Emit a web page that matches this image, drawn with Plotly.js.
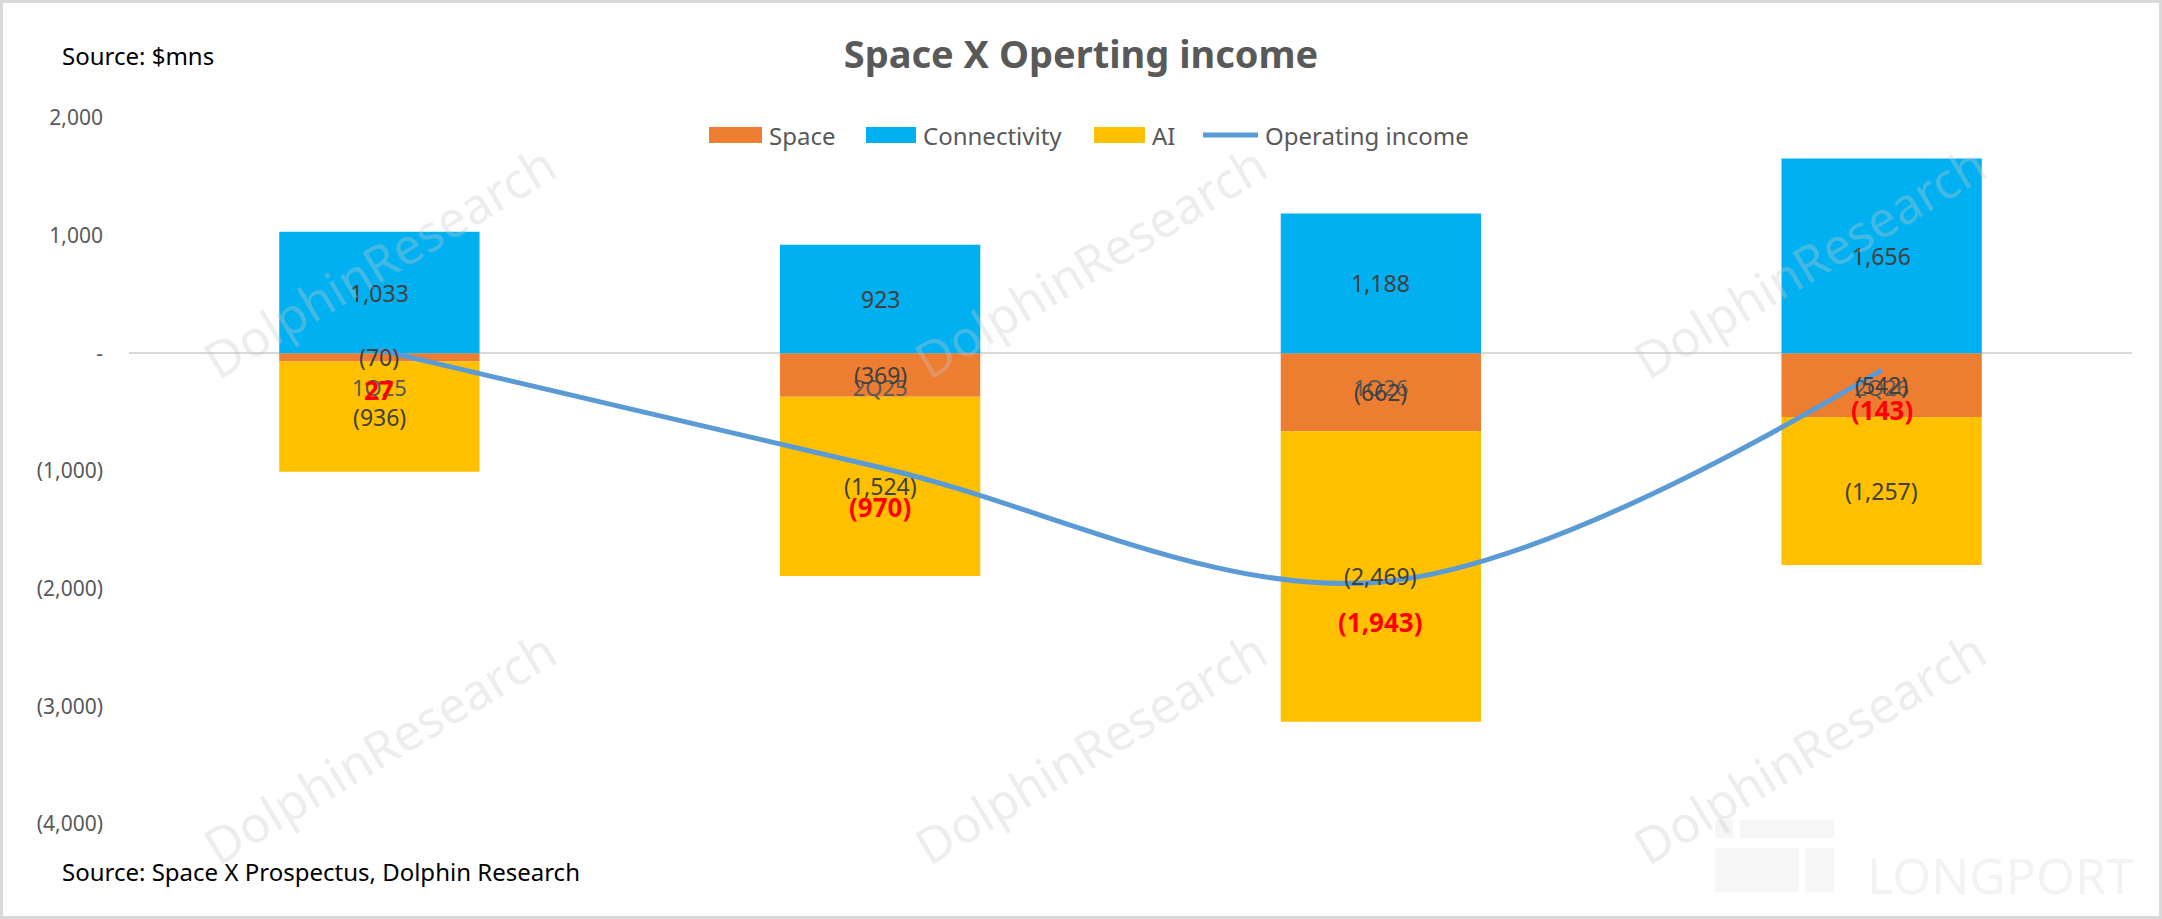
<!DOCTYPE html>
<html>
<head>
<meta charset="utf-8">
<script src="https://cdn.plot.ly/plotly-3.0.1.min.js"></script>
<style>
  html, body { margin: 0; padding: 0; background: #fff; }
  #chart { width: 2162px; height: 919px; box-sizing: border-box; border: 3px solid #d9d9d9; }
</style>
</head>
<body>
<div id="chart"></div>
<script>
// Space X operating income by segment ($mns)
var categories = ['1Q25', '2Q25', '1Q26', '2Q26'];
var space = [-70, -369, -662, -542];
var connectivity = [1033, 923, 1188, 1656];
var ai = [-936, -1524, -2469, -1257];
var operatingIncome = [27, -970, -1943, -143];

var yTickVals = [2000, 1000, 0, -1000, -2000, -3000, -4000];
var yTickText = ['2,000', '1,000', '-', '(1,000)', '(2,000)', '(3,000)', '(4,000)'];

var FONT = '"Noto Sans", "Open Sans", sans-serif';
var colors = {Space: '#ED7D31', Connectivity: '#00B0F0', AI: '#FFC000', line: '#5B9BD5'};

function fmt(v) {
  if (v === 0) return '-';
  var s = Math.abs(v).toLocaleString('en-US');
  return v < 0 ? '(' + s + ')' : s;
}

// plot area in picture pixels, used to place the free text
var L = 129, T = 118, W = 2003, H = 706;
function px(x) { return (x - L) / W; }
function py(y) { return (T + H - y) / H; }

function barTrace(name, values) {
  return {
    type: 'bar',
    name: name,
    x: categories,
    y: values,
    marker: {color: colors[name], line: {width: 0}},
    showlegend: false,
    hoverinfo: 'skip',
  };
}

var data = [
  barTrace('Space', space),
  barTrace('Connectivity', connectivity),
  barTrace('AI', ai),
  {
    type: 'scatter',
    mode: 'lines',
    name: 'Operating income',
    x: categories,
    y: operatingIncome,
    line: {color: colors.line, width: 5, shape: 'spline', smoothing: 1},
    showlegend: false,
    hoverinfo: 'skip',
  },
];

var annotations = [];
var shapes = [];

// segment labels, centred in each piece of the stack
function segLabel(cat, yMid, v) {
  annotations.push({
    x: cat, y: yMid, xref: 'x', yref: 'y', text: fmt(v), showarrow: false,
    font: {color: '#404040', size: 23, family: FONT},
  });
}
for (var i = 0; i < categories.length; i++) {
  segLabel(categories[i], connectivity[i] / 2, connectivity[i]);
  segLabel(categories[i], space[i] / 2, space[i]);
  segLabel(categories[i], space[i] + ai[i] / 2, ai[i]);
}
// red labels under the operating income line
for (var j = 0; j < categories.length; j++) {
  annotations.push({
    x: categories[j], y: operatingIncome[j], xref: 'x', yref: 'y',
    text: '<b>' + fmt(operatingIncome[j]) + '</b>',
    showarrow: false, yshift: -40,
    font: {color: '#FF0000', size: 26, family: FONT},
  });
}

annotations.push({
  xref: 'paper', yref: 'paper', x: px(60), y: py(55), xanchor: 'left', yanchor: 'middle',
  text: 'Source: $mns', showarrow: false, font: {size: 24, color: '#000', family: FONT},
});
annotations.push({
  xref: 'paper', yref: 'paper', x: px(60), y: py(871), xanchor: 'left', yanchor: 'middle',
  text: 'Source: Space X Prospectus, Dolphin Research', showarrow: false,
  font: {size: 24, color: '#000', family: FONT},
});

// legend drawn by hand so the swatches match the wide Excel ones
var legendItems = [
  {name: 'Space', kind: 'bar', x0: 709, x1: 762},
  {name: 'Connectivity', kind: 'bar', x0: 866, x1: 916},
  {name: 'AI', kind: 'bar', x0: 1094, x1: 1145},
  {name: 'Operating income', kind: 'line', x0: 1203, x1: 1258},
];
legendItems.forEach(function (it) {
  if (it.kind === 'bar') {
    shapes.push({
      type: 'rect', xref: 'paper', yref: 'paper',
      x0: px(it.x0), x1: px(it.x1), y0: py(143), y1: py(127),
      fillcolor: colors[it.name], line: {width: 0},
    });
  } else {
    shapes.push({
      type: 'line', xref: 'paper', yref: 'paper',
      x0: px(it.x0), x1: px(it.x1), y0: py(135), y1: py(135),
      line: {color: colors.line, width: 5},
    });
  }
  annotations.push({
    xref: 'paper', yref: 'paper', x: px(it.x1 + 5), y: py(135), xanchor: 'left', yanchor: 'middle',
    text: it.name, showarrow: false, font: {size: 24, color: '#595959', family: FONT},
  });
});

// watermarks
var wmX = [379, 1090, 1809];
var wmY = [262, 748];
wmY.forEach(function (wy) {
  wmX.forEach(function (wx) {
    annotations.push({
      xref: 'paper', yref: 'paper', x: px(wx), y: py(wy), xanchor: 'center', yanchor: 'middle',
      text: 'DolphinResearch', textangle: -31, showarrow: false,
      font: {size: 50, color: 'rgba(200,200,200,0.33)', family: FONT},
    });
  });
});
annotations.push({
  xref: 'paper', yref: 'paper', x: px(2000), y: py(875), xanchor: 'center', yanchor: 'middle',
  text: 'LONGPORT', showarrow: false,
  font: {size: 50, color: 'rgba(220,220,220,0.35)', family: FONT},
});
[[1715, 1733, 820, 838], [1740, 1834, 820, 838], [1715, 1799, 848, 892], [1805, 1834, 848, 892]].forEach(function (r) {
  shapes.push({
    type: 'rect', xref: 'paper', yref: 'paper', layer: 'below',
    x0: px(r[0]), x1: px(r[1]), y0: py(r[3]), y1: py(r[2]),
    fillcolor: '#f6f6f6', line: {width: 0},
  });
});

var layout = {
  width: 2156,
  height: 913,
  margin: {l: 126, r: 27, t: 115, b: 92},
  paper_bgcolor: '#fff',
  plot_bgcolor: 'rgba(0,0,0,0)',
  font: {family: FONT, size: 21, color: '#595959'},
  title: {
    text: '<b>Space X Operting income</b>',
    xref: 'container', x: 0.5, yref: 'container', y: 1 - 52 / 913, yanchor: 'middle',
    font: {size: 38, color: '#595959', family: FONT},
  },
  barmode: 'relative',
  bargap: 0.6,
  showlegend: false,
  xaxis: {
    type: 'category',
    anchor: 'free',
    position: 4000 / 6000,
    showline: false,
    showgrid: false,
    ticks: '',
    ticklabelstandoff: 20,
    tickfont: {size: 22, color: '#595959'},
    fixedrange: true,
  },
  yaxis: {
    range: [-4000, 2000],
    tickvals: yTickVals,
    ticktext: yTickText,
    showgrid: false,
    zeroline: true,
    zerolinecolor: '#d9d9d9',
    zerolinewidth: 2,
    showline: false,
    ticks: '',
    ticklabelstandoff: 25,
    tickfont: {size: 21, color: '#595959'},
    fixedrange: true,
  },
  shapes: shapes,
  annotations: annotations,
};

Plotly.newPlot('chart', data, layout, {displayModeBar: false, staticPlot: true});
</script>
</body>
</html>
